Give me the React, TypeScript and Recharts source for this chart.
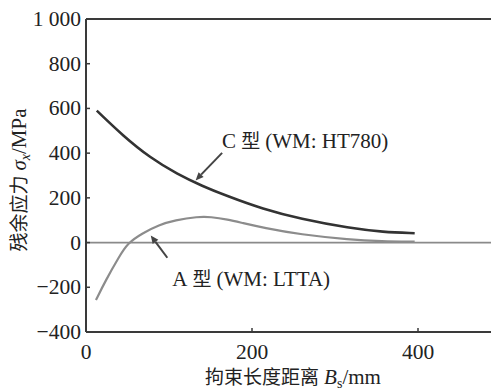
import React from "react";
import { LineChart, Line, XAxis, YAxis, ReferenceLine, ReferenceDot } from "recharts";

const bsC = [13, 45, 77, 110, 140, 170, 213, 258, 318, 358, 396];
const sigmaC = [590, 476, 380, 306, 253, 208, 150, 106, 64, 47, 42];
const bsA = [12, 24, 40, 50, 68, 88, 107, 135, 150, 171, 188, 214, 258, 318, 356, 396];
const sigmaA = [-257, -167, -63, -3, 42, 79, 100, 116, 115, 103, 88, 66, 36, 13, 6, 4];
const xTicks = [0, 200, 400];
const yTicks = [-400, -200, 0, 200, 400, 600, 800, 1000];
const labelC = "C 型 (WM: HT780)";
const labelA = "A 型 (WM: LTTA)";

const dataC = bsC.map((b, i) => ({ b, v: sigmaC[i] }));
const dataA = bsA.map((b, i) => ({ b, v: sigmaA[i] }));

const SERIF_NAME = "Liberation Serif";
const SERIF = { fontFamily: '"Liberation Serif"' };
const CJK = { fontFamily: '"Noto Sans CJK SC"' };
const AXIS = "#3a3a3a";

const CSS = `
#root text, #root tspan { font-family: "Liberation Serif", "Noto Sans CJK SC" !important; }
#root .cjk { font-family: "Noto Sans CJK SC" !important; }
`;

const fmtY = (v: number) => (v === 1000 ? "1 000" : v < 0 ? "\u2212" + Math.abs(v) : String(v));

const YTick = (props: any) => {
  const { x, y, payload } = props;
  const v = payload.value;
  return (
    <g>
      {v !== 1000 && v !== -400 && <line x1={x} x2={x + 4} y1={y} y2={y} stroke={AXIS} strokeWidth={1.5} />}
      <text x={x - 5} y={y + 7} textAnchor="end" fontFamily={SERIF_NAME} style={SERIF} fontSize={21.5} fill="#222">
        {fmtY(v)}
      </text>
    </g>
  );
};

const XTick = (props: any) => {
  const { x, y, payload } = props;
  const v = payload.value;
  return (
    <g>
      {v !== 0 && <line x1={x} x2={x} y1={y} y2={y - 4} stroke={AXIS} strokeWidth={1.5} />}
      <text x={x} y={y + 27} textAnchor="middle" fontFamily={SERIF_NAME} style={SERIF} fontSize={21.5} fill="#222">
        {v}
      </text>
    </g>
  );
};

const arrowShape = (props: any) => {
  const { x1, y1, x2, y2, stroke } = props;
  if ([x1, y1, x2, y2].some((n) => typeof n !== "number" || isNaN(n))) return <g />;
  const dx = x2 - x1;
  const dy = y2 - y1;
  const len = Math.sqrt(dx * dx + dy * dy);
  const ux = dx / len;
  const uy = dy / len;
  const hl = 8;
  const hw = 3.5;
  const bx = x2 - ux * hl;
  const by = y2 - uy * hl;
  const pts = `${x2},${y2} ${bx - uy * hw},${by + ux * hw} ${bx + uy * hw},${by - ux * hw}`;
  return (
    <g>
      <line x1={x1} y1={y1} x2={bx} y2={by} stroke={stroke} strokeWidth={2} />
      <polygon points={pts} fill={stroke} />
    </g>
  );
};

const makeText = (txt: string) => (props: any) => {
  const { cx, cy } = props;
  const parts = txt.split(" ");
  return (
    <text x={cx} y={cy + 7} fontFamily={SERIF_NAME} style={SERIF} fontSize={21} fill="#222">
      <tspan>{parts[0]}</tspan>
      <tspan dx={5} className="cjk" style={CJK} fontSize={19}>{parts[1]}</tspan>
      <tspan dx={5}>{parts.slice(2).join(" ")}</tspan>
    </text>
  );
};

const YLabel = () => (
  <text
    transform="translate(18,172) rotate(-90)"
    textAnchor="middle"
    fontFamily={SERIF_NAME}
    style={SERIF}
    fontSize={21}
    fill="#222"
  >
    <tspan className="cjk" style={CJK} fontSize={19}>残余应力</tspan>
    <tspan dx={5} fontStyle="italic">σ</tspan>
    <tspan fontStyle="italic" fontSize={14} dy={4}>x</tspan>
    <tspan dy={-4}>/MPa</tspan>
  </text>
);

const XLabel = () => (
  <text x={285} y={376} textAnchor="middle" fontFamily={SERIF_NAME} style={SERIF} fontSize={21} fill="#222">
    <tspan className="cjk" style={CJK} fontSize={19}>拘束长度距离</tspan>
    <tspan dx={5} fontStyle="italic">B</tspan>
    <tspan fontSize={14} dy={4}>s</tspan>
    <tspan dy={-4}>/mm</tspan>
  </text>
);

export default function App() {
  return (
    <div style={{ width: 491, height: 383, overflow: "hidden", position: "relative", fontFamily: '"Liberation Serif"' }}>
      <style>{CSS}</style>
      <LineChart
        width={500}
        height={383}
        margin={{ top: 11, right: 7, bottom: 0, left: 0 }}
      >
        <XAxis
          type="number"
          dataKey="b"
          domain={[0, 500]}
          ticks={xTicks}
          allowDataOverflow
          tick={<XTick />}
          tickSize={0}
          tickMargin={0}
          height={59}
          axisLine={{ stroke: AXIS, strokeWidth: 2 }}
          tickLine={false}
        />
        <YAxis
          type="number"
          domain={[-400, 1000]}
          ticks={yTicks}
          tick={<YTick />}
          tickSize={0}
          tickMargin={0}
          width={78}
          axisLine={{ stroke: AXIS, strokeWidth: 2 }}
          tickLine={false}
          interval={0}
        />
        <ReferenceLine y={1000} stroke={AXIS} strokeWidth={2} />
        <ReferenceLine y={0} stroke="#8a8a8a" strokeWidth={1.8} />
        <Line
          data={dataA}
          dataKey="v"
          type="basis"
          stroke="#8c8c8c"
          strokeWidth={2.2}
          dot={false}
          isAnimationActive={false}
        />
        <Line
          data={dataC}
          dataKey="v"
          type="basis"
          stroke="#333"
          strokeWidth={2.6}
          dot={false}
          isAnimationActive={false}
        />
        <ReferenceLine
          segment={[{ x: 164, y: 401 }, { x: 132, y: 278 }]}
          stroke="#444"
          shape={arrowShape}
          ifOverflow="visible"
        />
        <ReferenceLine
          segment={[{ x: 98, y: -68 }, { x: 78, y: 32 }]}
          stroke="#444"
          shape={arrowShape}
          ifOverflow="visible"
        />
        <ReferenceDot x={164} y={454} r={0} shape={makeText(labelC)} ifOverflow="visible" />
        <ReferenceDot x={104} y={-163} r={0} shape={makeText(labelA)} ifOverflow="visible" />
      </LineChart>
      <svg width={491} height={383} style={{ position: "absolute", left: 0, top: 0, pointerEvents: "none" }}>
        <YLabel />
        <XLabel />
      </svg>
    </div>
  );
}
